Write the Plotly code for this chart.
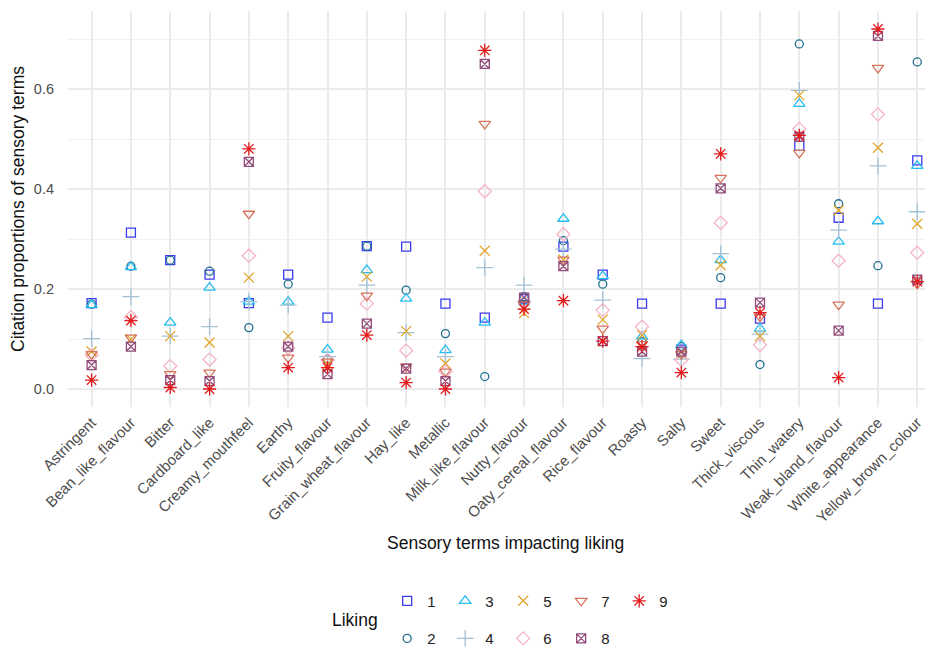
import plotly.graph_objects as go

categories = ["Astringent", "Bean_like_flavour", "Bitter", "Cardboard_like", "Creamy_mouthfeel",
              "Earthy", "Fruity_flavour", "Grain_wheat_flavour", "Hay_like", "Metallic",
              "Milk_like_flavour", "Nutty_flavour", "Oaty_cereal_flavour", "Rice_flavour", "Roasty",
              "Salty", "Sweet", "Thick_viscous", "Thin_watery", "Weak_bland_flavour",
              "White_appearance", "Yellow_brown_colour"]

liking_1 = [0.172, 0.313, 0.258, 0.229, 0.172, 0.229, 0.143, 0.286, 0.285, 0.171, 0.143, 0.180, 0.285, 0.229, 0.171, 0.079, 0.171, 0.141, 0.487, 0.343, 0.171, 0.458]
liking_2 = [0.170, 0.246, 0.258, 0.236, 0.123, 0.210, 0.060, 0.286, 0.198, 0.111, 0.025, 0.185, 0.297, 0.210, 0.095, 0.085, 0.223, 0.049, 0.691, 0.371, 0.247, 0.655]
liking_3 = [0.168, 0.244, 0.133, 0.203, 0.175, 0.175, 0.079, 0.238, 0.181, 0.078, 0.133, 0.175, 0.341, 0.226, 0.105, 0.088, 0.258, 0.121, 0.571, 0.295, 0.336, 0.447]
liking_4 = [0.101, 0.185, 0.106, 0.125, 0.175, 0.168, 0.065, 0.208, 0.113, 0.065, 0.243, 0.208, 0.280, 0.178, 0.061, 0.060, 0.271, 0.110, 0.598, 0.318, 0.447, 0.355]
liking_5 = [0.075, 0.100, 0.106, 0.093, 0.223, 0.106, 0.050, 0.225, 0.116, 0.051, 0.277, 0.152, 0.259, 0.139, 0.108, 0.070, 0.248, 0.106, 0.588, 0.358, 0.483, 0.331]
liking_6 = [0.068, 0.144, 0.046, 0.059, 0.267, 0.082, 0.058, 0.171, 0.077, 0.035, 0.396, 0.175, 0.310, 0.158, 0.125, 0.058, 0.333, 0.088, 0.521, 0.257, 0.550, 0.273]
liking_7 = [0.070, 0.103, 0.030, 0.033, 0.351, 0.063, 0.055, 0.187, 0.045, 0.035, 0.531, 0.170, 0.259, 0.121, 0.090, 0.070, 0.423, 0.145, 0.473, 0.169, 0.643, 0.211]
liking_8 = [0.048, 0.085, 0.018, 0.016, 0.455, 0.085, 0.030, 0.131, 0.041, 0.016, 0.651, 0.183, 0.246, 0.096, 0.075, 0.075, 0.402, 0.173, 0.505, 0.117, 0.707, 0.219]
liking_9 = [0.018, 0.137, 0.003, 0.000, 0.481, 0.043, 0.043, 0.108, 0.013, 0.000, 0.678, 0.160, 0.177, 0.096, 0.085, 0.033, 0.471, 0.153, 0.508, 0.023, 0.721, 0.215]

series = {"1": liking_1, "2": liking_2, "3": liking_3, "4": liking_4, "5": liking_5,
          "6": liking_6, "7": liking_7, "8": liking_8, "9": liking_9}
colors = {"1": "#3a3af0", "2": "#1f6f8f", "3": "#27bdf0", "4": "#a3c2d6", "5": "#e0a52c",
          "6": "#f6b3c5", "7": "#d6735b", "8": "#924d7a", "9": "#e31a1c"}
symbols = {"1": "square-open", "2": "circle-open", "3": "triangle-up-open", "4": "cross-thin-open",
           "5": "x-thin-open", "6": "diamond-open", "7": "triangle-down-open", "8": "square-x-open",
           "9": "asterisk-open"}
sizes = {"1": 9, "2": 8, "3": 10, "4": 12, "5": 10, "6": 10, "7": 10, "8": 9, "9": 11}

FONT = "Liberation Sans, Arial, sans-serif"
fig = go.Figure()
for k in ["1", "2", "3", "4", "5", "6", "7", "8", "9"]:
    fig.add_trace(go.Scatter(
        x=categories, y=series[k], mode="markers", name=k,
        legend="legend" if int(k) % 2 == 1 else "legend2",
        marker=dict(symbol=symbols[k], color=colors[k], size=sizes[k],
                    line=dict(color=colors[k], width=1.3)),
    ))

# page body has an 8px margin, so the figure is 8px smaller and margins shifted by 8px
fig.update_layout(
    width=925, height=643,
    margin=dict(l=60, r=0, t=3, b=244, autoexpand=False),
    plot_bgcolor="white", paper_bgcolor="white",
    font=dict(family=FONT, color="#222222"),
    showlegend=True,
    legend=dict(orientation="h", x=0.369, xanchor="left", y=-0.49, yanchor="middle",
                font=dict(size=15, color="#222222"), entrywidth=13, itemwidth=30,
                bgcolor="rgba(0,0,0,0)"),
    legend2=dict(orientation="h", x=0.369, xanchor="left", y=-0.585, yanchor="middle",
                 font=dict(size=15, color="#222222"), entrywidth=13, itemwidth=30,
                 bgcolor="rgba(0,0,0,0)"),
    xaxis=dict(type="category", categoryorder="array", categoryarray=categories,
               range=[-0.6, 21.4], showgrid=True, gridcolor="#ebebeb", gridwidth=1.8,
               zeroline=False, showline=False, tickangle=-45, ticks="",
               ticklabelstandoff=3,
               tickfont=dict(size=15, color="#4d4d4d", family=FONT), automargin=False),
    yaxis=dict(range=[-0.036, 0.757], tickvals=[0, 0.2, 0.4, 0.6],
               ticktext=["0.0", "0.2", "0.4", "0.6"], showgrid=True, gridcolor="#ebebeb",
               gridwidth=1.6, zeroline=False, showline=False, ticks="",
               ticklabelstandoff=13,
               tickfont=dict(size=14.5, color="#4d4d4d", family=FONT), automargin=False,
               minor=dict(tickvals=[0.1, 0.3, 0.5, 0.7], showgrid=True, gridcolor="#f1f1f1",
                          gridwidth=1)),
    annotations=[
        dict(text="Sensory terms impacting liking", xref="paper", yref="paper",
             x=(505 - 68) / 865, y=(407 - 543) / 396, xanchor="center", yanchor="middle",
             showarrow=False, font=dict(size=17.5, color="#111111", family=FONT)),
        dict(text="Citation proportions of sensory terms", xref="paper", yref="paper",
             x=(18 - 68) / 865, y=0.5, xanchor="center", yanchor="middle", textangle=-90,
             showarrow=False, font=dict(size=17.5, color="#111111", family=FONT)),
        dict(text="Liking", xref="paper", yref="paper",
             x=(355 - 68) / 865, y=(407 - 620) / 396, xanchor="center", yanchor="middle",
             showarrow=False, font=dict(size=17.5, color="#111111", family=FONT)),
    ],
)

fig.write_html("out.html")
